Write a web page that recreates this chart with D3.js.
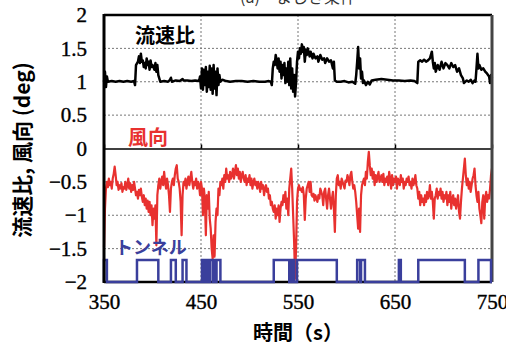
<!DOCTYPE html>
<html>
<head>
<meta charset="utf-8">
<script src="https://cdn.jsdelivr.net/npm/d3@7"></script>
<style>
  body { margin: 0; background: #fff; }
  svg text { font-family: "Liberation Serif", serif; }
  .cjk { font-family: "Noto Sans CJK JP", sans-serif !important; }
</style>
</head>
<body>
<svg id="chart" width="506" height="343"></svg>
<script>
// time (s), flow-speed ratio
const flowRatio = [
  [350,1.0],[351,1.15],[352,0.92],[353,1.08],[354,1.0],[358,1.01],[362,1.0],[366,1.01],[370,1.0],[374,1.01],
  [378,1.0],[381,1.01],[382,0.95],[383,1.25],[385,1.3],[386,1.38],[387,1.28],[388,1.42],[389,1.3],[390,1.32],
  [391,1.22],[392,1.28],[393,1.2],[394,1.35],[395,1.25],[396,1.3],[397,1.18],[398,1.32],[399,1.22],[400,1.25],
  [402,1.18],[403,1.28],[404,1.15],[405,1.25],[406,1.1],[407,1.05],[408,1.0],[412,1.01],[416,1.0],[418,1.03],
  [419,1.06],[420,1.0],[424,1.02],[428,1.01],[431,1.04],[432,1.02],[436,1.02],[440,1.01],[444,1.02],[448,1.01],
  [449,1.08],[450,0.9],[451,1.2],[452,0.88],[453,1.18],[454,0.95],[455,1.22],[456,0.85],[457,1.15],[458,0.92],
  [459,1.24],[460,0.88],[461,1.2],[462,0.82],[463,1.25],[464,0.9],[465,1.15],[466,0.8],[467,1.2],[468,0.95],
  [469,1.1],[470,1.0],[472,1.03],[476,1.01],[480,1.0],[486,1.01],[492,1.01],[498,1.0],[504,1.01],[510,1.0],
  [516,1.0],[520,1.01],[522,1.0],[523,0.95],[524,1.2],[525,1.3],[526,1.25],[527,1.4],[528,1.32],[529,1.2],
  [530,1.35],[531,1.15],[532,1.3],[533,1.05],[534,1.25],[535,1.1],[536,1.28],[537,0.98],[538,1.2],[539,1.0],
  [540,1.3],[541,0.95],[542,1.35],[543,0.9],[544,1.2],[545,0.85],[546,1.1],[547,0.78],[548,1.0],[549,1.3],
  [550,1.45],[551,1.35],[552,1.5],[553,1.42],[554,1.56],[555,1.45],[556,1.52],[557,1.3],[558,1.48],[559,1.4],
  [560,1.5],[562,1.38],[563,1.45],[565,1.35],[566,1.42],[568,1.35],[570,1.38],[571,1.3],[573,1.4],[575,1.33],
  [577,1.35],[578,1.28],[580,1.35],[582,1.3],[584,1.32],[586,1.2],[587,1.3],[588,1.02],[590,1.0],[594,1.0],
  [598,1.01],[602,0.99],[606,1.0],[609,0.97],[610,1.1],[611,1.3],[612,1.52],[613,1.2],[614,1.35],[615,1.05],
  [616,1.15],[617,0.98],[618,1.02],[620,0.95],[622,1.0],[624,0.96],[626,1.02],[630,1.03],[636,1.04],[642,1.03],
  [648,1.02],[654,1.02],[660,1.01],[666,1.02],[670,1.01],[673,0.98],[674,1.3],[676,1.32],[678,1.3],[680,1.33],
  [682,1.3],[684,1.32],[686,1.35],[688,1.45],[689,1.3],[690,1.2],[691,1.28],[692,1.15],[694,1.25],[696,1.18],
  [698,1.3],[700,1.2],[702,1.28],[704,1.25],[706,1.2],[708,1.28],[710,1.22],[712,1.25],[714,1.15],[716,1.2],
  [718,1.1],[720,1.05],[721,0.98],[724,1.02],[726,1.0],[728,1.03],[730,0.98],[732,1.02],[733,1.0],[734,1.2],
  [735,1.42],[736,1.2],[737,1.25],[739,1.18],[741,1.2],[743,1.15],[745,1.12],[747,1.08],[748,0.98],[749,1.1],
  [750,1.05]
];

// wind direction, one value per second from 350 s to 750 s
const windStart = 350;
const windDir = [
  -1.48,-0.9,-0.6,-0.5,-0.58,-0.45,-0.55,-0.5,-0.6,-0.45,-0.38,-0.27,-0.4,-0.55,-0.5,-0.62,-0.55,-0.6,-0.52,-0.65,
  -0.58,-0.6,-0.5,-0.62,-0.55,-0.45,-0.6,-0.52,-0.65,-0.55,-0.62,-0.5,-0.6,-0.7,-0.65,-0.75,-0.62,-0.7,-0.6,-0.72,
  -0.8,-0.7,-0.85,-0.75,-0.9,-0.78,-0.95,-0.8,-1.0,-0.85,-1.15,-0.9,-1.05,-0.85,-1.45,-0.7,-0.55,-0.45,-0.6,-0.5,
  -0.42,-0.55,-0.35,-0.5,-0.6,-0.45,-0.55,-0.7,-0.95,-0.6,-0.5,-0.45,-0.55,-0.4,-0.3,-0.25,-0.45,-0.5,-0.6,-0.8,
  -1.3,-0.7,-0.5,-0.55,-0.45,-0.6,-0.5,-0.42,-0.55,-0.45,-0.35,-0.5,-0.6,-0.5,-0.55,-0.45,-0.6,-0.5,-0.55,-0.7,
  -0.5,-0.6,-1.0,-0.6,-0.75,-1.3,-0.7,-0.9,-0.65,-1.05,-1.2,-1.5,-1.65,-1.3,-1.62,-1.1,-0.9,-1.0,-0.6,-0.7,
  -0.5,-0.55,-0.45,-0.6,-0.4,-0.5,-0.3,-0.45,-0.4,-0.5,-0.35,-0.45,-0.4,-0.3,-0.45,-0.35,-0.25,-0.4,-0.3,-0.45,
  -0.35,-0.5,-0.4,-0.35,-0.45,-0.5,-0.4,-0.55,-0.45,-0.5,-0.4,-0.55,-0.45,-0.6,-0.5,-0.45,-0.55,-0.5,-0.6,-0.5,
  -0.55,-0.65,-0.5,-0.6,-0.55,-0.7,-0.6,-0.55,-0.65,-0.6,-0.75,-0.7,-0.85,-0.8,-0.9,-0.95,-0.85,-1.05,-0.9,-1.0,
  -0.85,-1.1,-0.9,-0.8,-0.85,-0.7,-0.8,-0.65,-0.9,-0.75,-1.0,-0.6,-0.45,-0.3,-0.6,-1.0,-1.4,-1.95,-1.5,-0.8,
  -0.6,-0.55,-0.62,-0.6,-0.65,-0.58,-0.7,-1.07,-0.75,-0.6,-0.55,-0.5,-0.65,-0.5,-0.7,-0.72,-0.68,-0.78,-0.7,-0.75,
  -0.8,-0.7,-0.75,-0.6,-0.65,-0.7,-0.85,-0.65,-0.6,-0.75,-0.9,-0.7,-0.6,-0.75,-0.9,-0.75,-0.65,-0.9,-1.25,-0.7,
  -0.45,-0.4,-0.55,-0.5,-0.6,-0.45,-0.5,-0.55,-0.6,-0.48,-0.5,-0.4,-0.45,-0.55,-0.4,-0.35,-0.5,-0.6,-0.55,-0.65,
  -0.8,-1.0,-1.2,-0.9,-1.25,-0.7,-0.55,-0.5,-0.45,-0.55,-0.35,-0.45,-0.2,-0.05,-0.25,-0.4,-0.3,-0.45,-0.35,-0.55,
  -0.4,-0.5,-0.42,-0.35,-0.5,-0.45,-0.4,-0.5,-0.38,-0.55,-0.45,-0.5,-0.42,-0.55,-0.35,-0.45,-0.6,-0.4,-0.55,-0.45,
  -0.5,-0.42,-0.6,-0.45,-0.5,-0.55,-0.4,-0.5,-0.45,-0.6,-0.5,-0.55,-0.45,-0.5,-0.42,-0.55,-0.5,-0.6,-0.45,-0.55,
  -0.5,-0.4,-0.55,-0.6,-0.75,-0.65,-0.85,-0.7,-0.8,-0.75,-0.85,-0.7,-0.8,-0.65,-0.75,-0.7,-0.55,-0.75,-0.65,-0.8,
  -1.05,-0.75,-0.7,-0.6,-0.75,-0.65,-0.7,-0.6,-0.75,-0.65,-0.8,-0.7,-0.75,-0.65,-0.85,-0.7,-0.8,-0.65,-0.9,-0.75,
  -0.7,-0.85,-0.75,-0.9,-0.8,-0.7,-0.95,-1.05,-0.8,-0.6,-0.45,-0.3,-0.15,-0.4,-0.55,-0.45,-0.6,-0.5,-0.65,-0.55,
  -0.45,-0.4,-0.3,-0.55,-0.7,-0.8,-0.65,-0.9,-1.0,-1.12,-0.8,-0.7,-1.05,-0.75,-0.65,-0.8,-0.7,-0.75,-0.6,-0.4,
  -0.3
];

// tunnel present: [start, end] in seconds
const tunnelOn = [
  [350,353],[384,406],[419,424],[431,435],[451,453],[454,456],[457,458],[459,462],[463,464],[466,470],
  [525,541],[542,543],[544,546],[549,590],[611,614],[615,619],[654,656],[674,722],[736,749]
];
const tunnelLow = -2, tunnelHigh = -1.67;

const xTicks = [350, 450, 550, 650, 750];
const yTicks = [2, 1.5, 1, 0.5, 0, -0.5, -1, -1.5, -2];

const svg = d3.select("#chart");
const plotL = 104, plotR = 492, plotT = 15, plotB = 282;

const x = d3.scaleLinear().domain([350, 750]).range([plotL, plotR]);
const y = d3.scaleLinear().domain([-2, 2]).range([plotB, plotT]);

// gridlines
svg.append("g")
    .selectAll("line")
    .data(yTicks.filter(d => d !== 0 && Math.abs(d) !== 2))
    .enter().append("line")
    .attr("x1", plotL).attr("x2", plotR)
    .attr("y1", d => y(d)).attr("y2", d => y(d))
    .attr("stroke", "#777").attr("stroke-width", 1).attr("stroke-dasharray", "2,2");

svg.append("g")
    .selectAll("line")
    .data(xTicks.slice(1, -1))
    .enter().append("line")
    .attr("x1", d => x(d)).attr("x2", d => x(d))
    .attr("y1", plotT).attr("y2", plotB)
    .attr("stroke", "#777").attr("stroke-width", 1).attr("stroke-dasharray", "2,2");

// zero line with ticks
const zeroAxis = svg.append("g")
    .attr("transform", `translate(0,${y(0)})`)
    .call(d3.axisBottom(x).tickValues(xTicks).tickSize(-4).tickSizeOuter(0).tickFormat(""));
zeroAxis.select(".domain").attr("stroke", "#000").attr("stroke-width", 1.5);
zeroAxis.selectAll(".tick line").attr("stroke", "#000").attr("stroke-width", 1.5);

// series
const line = d3.line().x(d => x(d[0])).y(d => y(d[1]));

svg.append("path")
    .datum(flowRatio)
    .attr("fill", "none")
    .attr("stroke", "#000")
    .attr("stroke-width", 2.5)
    .attr("stroke-linejoin", "round")
    .attr("d", line);

svg.append("path")
    .datum(windDir.map((v, i) => [windStart + i, v]))
    .attr("fill", "none")
    .attr("stroke", "#e8312f")
    .attr("stroke-width", 2.2)
    .attr("stroke-linejoin", "round")
    .attr("d", line);

const tunnelPts = [[350, tunnelLow]];
for (const [s, e] of tunnelOn) {
    tunnelPts.push([s, tunnelLow], [s, tunnelHigh], [e, tunnelHigh], [e, tunnelLow]);
}
tunnelPts.push([750, tunnelLow]);

// frame
svg.append("line").attr("x1", plotL).attr("x2", plotR).attr("y1", plotT).attr("y2", plotT)
    .attr("stroke", "#000").attr("stroke-width", 2.5);
svg.append("line").attr("x1", plotL).attr("x2", plotR).attr("y1", plotB).attr("y2", plotB)
    .attr("stroke", "#000").attr("stroke-width", 2.5);
svg.append("line").attr("x1", plotR).attr("x2", plotR).attr("y1", plotT).attr("y2", plotB)
    .attr("stroke", "#444").attr("stroke-width", 3);

svg.append("path")
    .datum(tunnelPts)
    .attr("fill", "none")
    .attr("stroke", "#3a3f9c")
    .attr("stroke-width", 2.5)
    .attr("d", line);

svg.append("line").attr("x1", plotL).attr("x2", plotL).attr("y1", plotT - 1).attr("y2", plotB + 1)
    .attr("stroke", "#000").attr("stroke-width", 3);

// axes labels
const yAxis = svg.append("g")
    .attr("transform", `translate(${plotL},0)`)
    .call(d3.axisLeft(y).tickValues(yTicks).tickSize(0).tickPadding(17)
        .tickFormat(d => d < 0 ? "\u2212" + Math.abs(d) : String(d)));
yAxis.select(".domain").remove();
yAxis.selectAll("text").attr("font-size", 21).attr("fill", "#000")
    .attr("stroke", "#000").attr("stroke-width", 0.4)
    .style("font-family", "'Liberation Serif', serif");

const xAxis = svg.append("g")
    .attr("transform", `translate(0,${plotB})`)
    .call(d3.axisBottom(x).tickValues(xTicks).tickSize(0).tickPadding(12));
xAxis.select(".domain").remove();
xAxis.selectAll("text").attr("font-size", 21).attr("fill", "#000")
    .attr("stroke", "#000").attr("stroke-width", 0.4)
    .style("font-family", "'Liberation Serif', serif");

// titles
svg.append("text")
    .attr("class", "cjk")
    .attr("x", (plotL + plotR) / 2).attr("y", 3)
    .attr("text-anchor", "middle")
    .attr("font-size", 16)
    .attr("fill", "#333")
    .text("(a)　まじき条件");

svg.append("text")
    .attr("class", "cjk")
    .attr("x", (plotL + plotR) / 2).attr("y", 340)
    .attr("text-anchor", "middle")
    .attr("font-size", 20)
    .attr("font-weight", "bold")
    .text("時間（s）");

svg.append("text")
    .attr("class", "cjk")
    .attr("transform", "translate(30,150) rotate(-90)")
    .attr("text-anchor", "middle")
    .attr("font-size", 21)
    .attr("font-weight", "bold")
    .text("流速比, 風向 (deg)");

// series labels
svg.append("text").attr("class", "cjk")
    .attr("x", 135).attr("y", 43).attr("font-size", 20).attr("font-weight", "bold")
    .attr("fill", "#000").text("流速比");
svg.append("text").attr("class", "cjk")
    .attr("x", 128).attr("y", 145).attr("font-size", 20).attr("font-weight", "bold")
    .attr("fill", "#e8312f").text("風向");
svg.append("text").attr("class", "cjk")
    .attr("x", 115).attr("y", 254).attr("font-size", 18).attr("font-weight", "bold")
    .attr("fill", "#3a3f9c").text("トンネル");
</script>
</body>
</html>
